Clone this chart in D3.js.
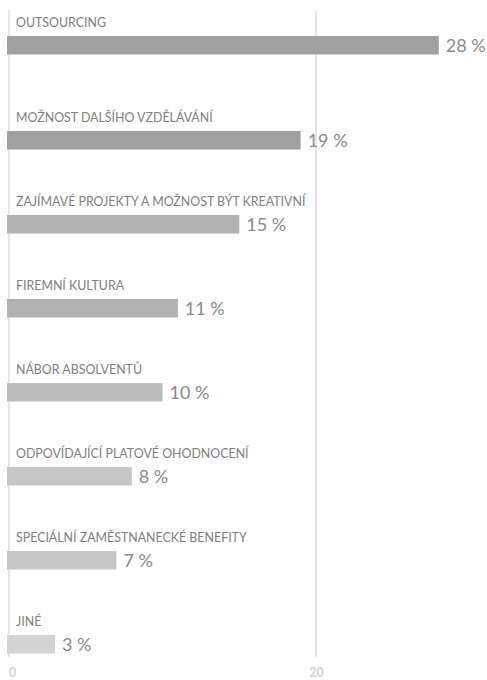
<!DOCTYPE html>
<html><head><meta charset="utf-8">
<script src="https://cdn.jsdelivr.net/npm/d3@7"></script>
<style>
html,body{margin:0;padding:0;background:#fff;}
svg{display:block;}
</style></head>
<body>
<svg id="chart" width="487" height="680"></svg>
<script>
const categories = [
  "OUTSOURCING",
  "MOŽNOST DALŠÍHO VZDĚLÁVÁNÍ",
  "ZAJÍMAVÉ PROJEKTY A MOŽNOST BÝT KREATIVNÍ",
  "FIREMNÍ KULTURA",
  "NÁBOR ABSOLVENTŮ",
  "ODPOVÍDAJÍCÍ PLATOVÉ OHODNOCENÍ",
  "SPECIÁLNÍ ZAMĚSTNANECKÉ BENEFITY",
  "JINÉ"
];
const values = [28, 19, 15, 11, 10, 8, 7, 3];
const tickValues = [0, 20];
const barColors = ["#a0a0a0","#a0a0a0","#b0b0b0","#b0b0b0","#bcbcbc","#c6c6c6","#c6c6c6","#d3d3d3"];

(function(){
const svg = d3.select("#chart");
const font = "Lato, 'Open Sans', sans-serif";

const x = d3.scaleLinear().domain([0, 20]).range([9, 316]);
const y = d3.scalePoint().domain(categories).range([47, 635]);
const firstExtra = 11;
const barH = 18.5;
const barTop = (d, i) => y(d) - (i === 0 ? firstExtra : 0);
const color = d3.scaleOrdinal().domain(categories).range(barColors);

// gridlines
const grid = svg.append("g");
grid.selectAll("line").data(tickValues).join("line")
  .attr("x1", d => x(d)).attr("x2", d => x(d))
  .attr("y1", 10).attr("y2", 657)
  .attr("stroke", "#e6e6e6").attr("stroke-width", 2);

// axis tick labels
const axis = d3.axisBottom(x).tickValues(tickValues).tickSize(0).tickPadding(0);
const ag = svg.append("g").attr("transform", "translate(0,668)").call(axis);
ag.select(".domain").remove();
ag.selectAll("text")
  .attr("font-family", font).attr("font-size", 12.5).attr("font-weight", "bold")
  .attr("fill", "#d2d2d2").attr("dy", "0.71em");
ag.selectAll(".tick").filter(d => d === 0).select("text").attr("dx", 3);

// bars
svg.append("g").selectAll("rect").data(categories).join("rect")
  .attr("x", x(0) - 2)
  .attr("y", (d, i) => barTop(d, i))
  .attr("width", (d, i) => x(values[i]) - x(0) + 2)
  .attr("height", barH)
  .attr("fill", d => color(d));

// category labels
svg.append("g").selectAll("text").data(categories).join("text")
  .attr("x", x(0) + 7)
  .attr("y", (d, i) => barTop(d, i) - 9)
  .attr("font-family", font).attr("font-size", 12.4)
  .attr("fill", "#7e7e7e")
  .text(d => d);

// value labels
svg.append("g").selectAll("text").data(categories).join("text")
  .attr("x", (d, i) => x(values[i]) + 7)
  .attr("y", (d, i) => barTop(d, i) + barH / 2 + 6.5)
  .attr("font-family", font).attr("font-size", 18)
  .attr("fill", "#898989")
  .text((d, i) => values[i] + " %");
})();
</script>
</body></html>
